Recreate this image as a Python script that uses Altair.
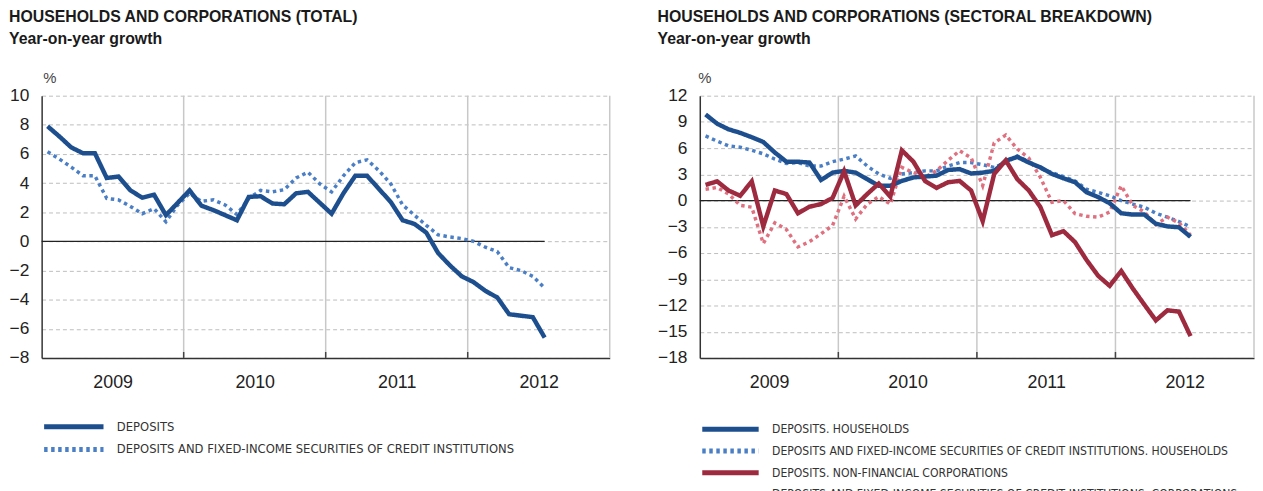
import altair as alt
import pandas as pd

# ---------------- data ----------------
years = ["2009", "2010", "2011", "2012"]
n_months = 43  # Jan 2009 .. Jul 2012

# Left panel (total)
dep_total = [7.9, 7.2, 6.45, 6.05, 6.05, 4.35, 4.45, 3.5, 3.0, 3.2, 1.8, 2.65,
             3.5, 2.45, 2.15, 1.8, 1.45, 3.05, 3.1, 2.6, 2.55, 3.3, 3.4, 2.65,
             1.9, 3.3, 4.5, 4.5, 3.6, 2.7, 1.45, 1.2, 0.6, -0.8, -1.65, -2.4,
             -2.8, -3.4, -3.85, -5.0, -5.1, -5.2, -6.6]
depfix_total = [6.15, 5.65, 5.1, 4.5, 4.5, 2.95, 2.85, 2.4, 1.9, 2.25, 1.35, 2.5,
                3.3, 2.75, 2.85, 2.5, 1.85, 2.95, 3.5, 3.4, 3.55, 4.35, 4.75, 3.95,
                3.4, 4.5, 5.4, 5.6, 4.85, 3.95, 2.5, 1.8, 1.1, 0.45, 0.3, 0.2,
                0.0, -0.4, -0.7, -1.8, -2.0, -2.4, -3.2]

# Right panel (sectoral)
dep_hh = [9.85, 8.8, 8.15, 7.75, 7.25, 6.7, 5.5, 4.45, 4.45, 4.35, 2.35, 3.2,
          3.4, 3.2, 2.45, 1.7, 1.7, 2.25, 2.65, 2.75, 2.85, 3.5, 3.6, 3.1,
          3.2, 3.4, 4.55, 5.0, 4.35, 3.8, 3.05, 2.55, 2.1, 0.95, 0.4, -0.3,
          -1.45, -1.6, -1.6, -2.65, -2.95, -3.05, -4.15]
depfix_hh = [7.4, 6.8, 6.25, 6.1, 5.75, 5.35, 4.75, 4.25, 4.35, 3.95, 3.95, 4.45,
             4.75, 5.1, 3.95, 3.05, 2.55, 3.05, 3.2, 3.4, 3.4, 3.95, 4.35, 4.35,
             4.1, 3.8, 4.35, 5.1, 4.45, 3.7, 3.2, 2.75, 2.25, 1.3, 0.95, 0.55,
             0.0, -0.4, -0.75, -1.45, -1.9, -2.4, -3.0]
dep_nfc = [1.8, 2.2, 1.15, 0.55, 2.2, -2.95, 1.15, 0.75, -1.45, -0.7, -0.4, 0.3,
           3.35, -0.55, 0.75, 1.95, 0.45, 5.75, 4.45, 2.25, 1.45, 2.1, 2.25, 1.15,
           -2.35, 3.05, 4.6, 2.45, 1.15, -0.75, -3.95, -3.5, -4.75, -6.8, -8.6, -9.75,
           -8.05, -10.05, -11.9, -13.7, -12.55, -12.7, -15.5]
depfix_corp = [1.3, 1.5, 0.75, -0.55, -0.75, -4.9, -2.55, -3.3, -5.3, -4.7, -3.8, -2.85,
               0.5, -2.1, -0.4, 0.45, -0.4, 3.8, 3.2, 2.7, 3.4, 4.6, 5.7, 4.9,
               1.7, 6.6, 7.5, 5.9, 4.85, 2.65, -0.2, 0.0, -1.5, -1.8, -1.9, -1.3,
               1.7, -0.55, -1.3, -2.75, -1.9, -2.55, -3.95]

left_names = ["DEPOSITS",
              "DEPOSITS AND FIXED-INCOME SECURITIES OF CREDIT INSTITUTIONS"]
right_names = ["DEPOSITS. HOUSEHOLDS",
               "DEPOSITS AND FIXED-INCOME SECURITIES OF CREDIT INSTITUTIONS. HOUSEHOLDS",
               "DEPOSITS. NON-FINANCIAL CORPORATIONS",
               "DEPOSITS AND FIXED-INCOME SECURITIES OF CREDIT INSTITUTIONS. CORPORATIONS"]

DARK_BLUE = "#1d4f8f"
LIGHT_BLUE = "#4a7fc6"
DARK_RED = "#9d2a3e"
PINK = "#e0707f"

SOLID = [1, 0]
DOTTED = [3.5, 3.6]

FONT = "Liberation Sans"
NARROW = "Liberation Sans Narrow, DejaVu Sans Condensed"

# wide legend glyph: a horizontal stroke three times wider than the row height
LEGEND_PATH = "M-3,0H3"


def long_df(names, series, kinds):
    rows = []
    for name, vals, k in zip(names, series, kinds):
        for i, v in enumerate(vals):
            rows.append({"m": i + 0.5, "v": v, "s": name, "k": k})
    return pd.DataFrame(rows)


def panel(names, series, kinds, colors, dashes, ydom, ystep, title, width,
          row_h, legend_y, legend_font, row_pad, title_x):
    H = 265
    xscale = alt.Scale(domain=[0, 48], nice=False, zero=False)
    yscale = alt.Scale(domain=ydom, nice=False, zero=False)
    label_expr = "[" + ",".join("'%s'" % y for y in years) + "][floor(datum.value/12)]"
    xaxis = alt.Axis(values=[6, 18, 30, 42], labelExpr=label_expr, ticks=False,
                     grid=False, domainColor="#333333", domainWidth=1.5,
                     labelFontSize=18, labelPadding=16, labelColor="#222222",
                     labelFont=FONT, title=None)
    yaxis = alt.Axis(values=list(range(ydom[0], ydom[1] + 1, ystep)), grid=True,
                     gridDash=[4, 3], gridColor="#bdbdbd", gridWidth=1,
                     ticks=False, domainColor="#333333", domainWidth=1.5,
                     labelFontSize=17.5, labelPadding=13, labelColor="#222222",
                     labelFont=FONT, title="%", titleAngle=0, titleX=title_x,
                     titleY=-13, titleAlign="left", titleBaseline="alphabetic",
                     titleFontWeight="normal", titleFontSize=15,
                     titleColor="#444444", titleFont=FONT)

    def X(field):
        return alt.X(field, type="quantitative", scale=xscale, axis=xaxis)

    def Y(field):
        return alt.Y(field, type="quantitative", scale=yscale, axis=yaxis)

    bounds = pd.DataFrame({"b": [12, 24, 36, 48]})
    vrules = alt.Chart(bounds).mark_rule(color="#c8c8c8", strokeWidth=1.5).encode(
        x=X("b"))
    inner_ticks = alt.Chart(pd.DataFrame({"b": [12, 24, 36]})).mark_rule(
        color="#444444", strokeWidth=1.5).encode(
        x=X("b"), y=alt.value(H), y2=alt.value(H - 6))

    df = long_df(names, series, kinds)
    last_x = float(df["m"].max())
    zero = alt.Chart(pd.DataFrame({"x0": [0.0], "x1": [last_x], "y": [0.0]})).mark_rule(
        color="#222222", strokeWidth=1.2).encode(x=X("x0"), x2="x1", y=Y("y"))

    legend = alt.Legend(orient="none", legendX=row_h, legendY=legend_y,
                        direction="vertical", title=None, symbolType=LEGEND_PATH,
                        symbolSize=row_h * row_h, symbolStrokeWidth=5,
                        labelFont=NARROW, labelFontSize=legend_font,
                        labelOffset=row_h + 11, labelLimit=800, rowPadding=row_pad,
                        labelColor="#333333", symbolOpacity=1)

    def line_layer(kind, sw):
        return alt.Chart(df).transform_filter(
            alt.datum.k == kind).mark_line(
            strokeCap="butt", strokeJoin="miter", strokeWidth=sw).encode(
            x=X("m"), y=Y("v"),
            color=alt.Color("s:N", scale=alt.Scale(domain=names, range=colors),
                            sort=names, legend=legend),
            strokeDash=alt.StrokeDash("s:N", scale=alt.Scale(domain=names, range=dashes),
                                      sort=names, legend=legend),
            order=alt.Order("m:Q"))

    dotted = line_layer("dot", 3.5)
    solid = line_layer("solid", 4.5)

    return alt.layer(vrules, zero, inner_ticks, dotted, solid).properties(
        width=width, height=H,
        title=alt.TitleParams(title[0], subtitle=title[1], anchor="start",
                              frame="bounds", fontSize=16, subtitleFontSize=16,
                              font=FONT, subtitleFont=FONT,
                              fontWeight="bold", subtitleFontWeight="bold",
                              color="#1a1a1a", subtitleColor="#1a1a1a",
                              subtitlePadding=6, offset=24))


left = panel(left_names, [dep_total, depfix_total], ["solid", "dot"],
             [DARK_BLUE, LIGHT_BLUE], [SOLID, DOTTED], [-8, 10], 2,
             ["HOUSEHOLDS AND CORPORATIONS (TOTAL)", "Year-on-year growth"],
             574, 20, 322, 13, -4, 1)
right = panel(right_names, [dep_hh, depfix_hh, dep_nfc, depfix_corp],
              ["solid", "dot", "solid", "dot"],
              [DARK_BLUE, LIGHT_BLUE, DARK_RED, PINK],
              [SOLID, DOTTED, SOLID, DOTTED], [-18, 12], 3,
              ["HOUSEHOLDS AND CORPORATIONS (SECTORAL BREAKDOWN)", "Year-on-year growth"],
              560, 19, 325, 12.2, -3, -2)

chart = alt.hconcat(left, right, spacing=47).resolve_scale(
    color="independent", strokeDash="independent",
    x="independent", y="independent").resolve_legend(
    color="independent", strokeDash="independent").configure(
    font=FONT, padding={"left": 1, "top": -1, "right": 0, "bottom": 0}).configure_view(stroke=None)

chart.save("out.html", embed_options={"renderer": "svg", "actions": False})
